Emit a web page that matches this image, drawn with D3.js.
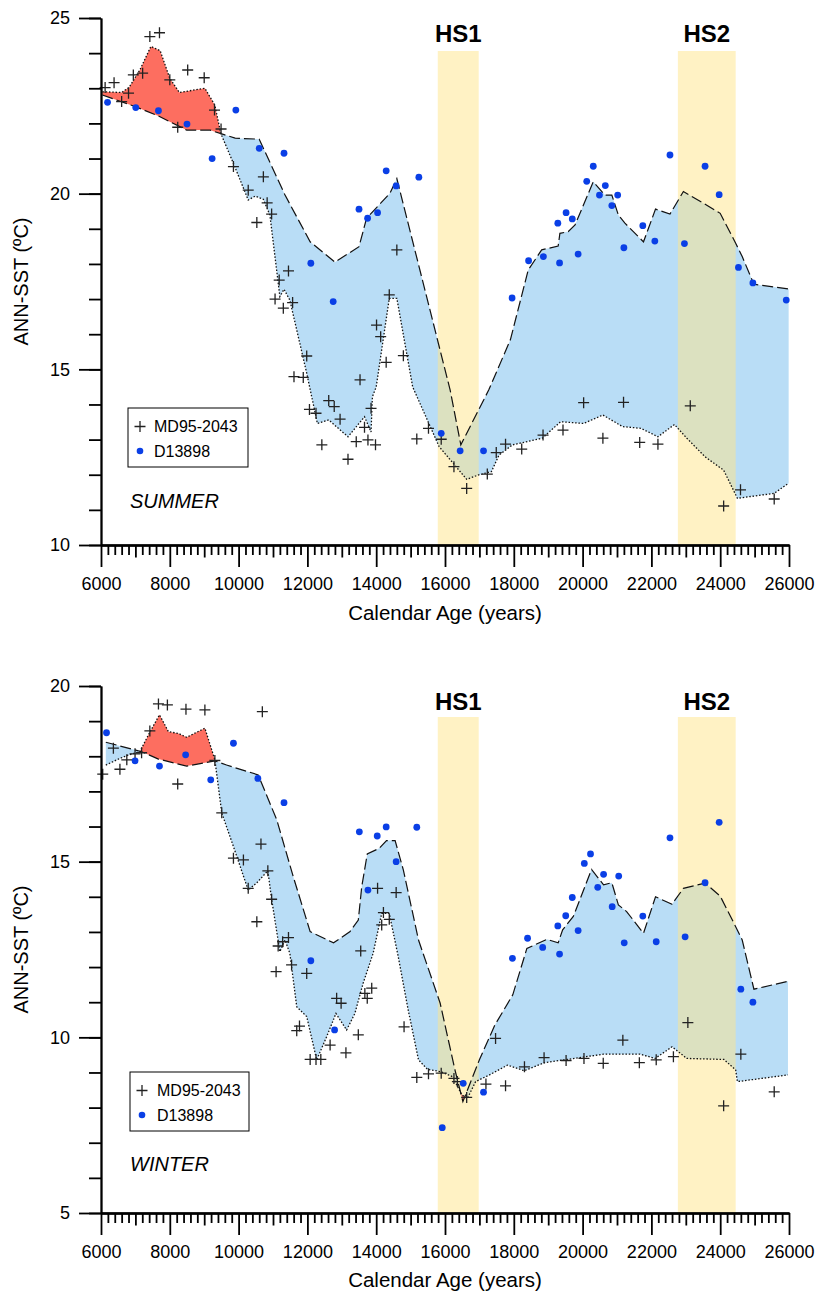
<html>
<head>
  <script src="https://d3js.org/d3.v7.min.js"></script>
</head>
<style>
  body { margin: 0; background: #fff; }
  text { font-family: "Liberation Sans", Arial, sans-serif; fill: #000; }
  .axis path, .axis line { stroke: #000; stroke-width: 1.8; }
  .axis text { font-size: 18px; }
</style>
<body>
<svg id="chart" width="815" height="1291"></svg>
<script>
// ---- data: [age (yr), SST (degC)] ----
const summerMd = [[6120,23.02],[6380,23.16],[6600,22.62],[6800,22.86],[6940,23.38],[7210,23.43],[7420,24.47],[7700,24.58],
  [8000,23.24],[8230,21.89],[8520,23.52],[9000,23.30],[9300,22.38],[9490,21.84],[9850,20.77],[10280,20.10],[10530,19.18],
  [10720,20.48],[10830,19.74],[10960,19.42],[11060,17.0],[11180,17.54],[11300,16.74],[11450,17.80],[11570,16.9],[11610,14.79],
  [11880,14.77],[11980,15.38],[12060,13.86],[12250,13.75],[12420,12.85],[12620,14.11],[12780,13.94],[12950,13.58],[13180,12.44],
  [13420,12.94],[13530,14.70],[13660,13.35],[13760,12.99],[13850,13.89],[13980,12.85],[14010,16.26],[14130,15.93],[14290,15.20],
  [14380,17.12],[14600,18.40],[14790,15.39],[15180,13.02],[15520,13.32],[15890,13.01],[16260,12.23],[16630,11.61],[17230,12.02],
  [17490,12.63],[17760,12.87],[18230,12.73],[18850,13.13],[19430,13.27],[20030,14.05],[20590,13.04],[21190,14.06],[21660,12.92],
  [22190,12.87],[23130,13.96],[24100,11.11],[24590,11.57],[25570,11.31]];

const summerD = [[6190,22.60],[7010,22.45],[7670,22.36],[8500,21.98],[9230,21.0],[9920,22.38],[10600,21.29],[11320,21.15],
  [12100,18.02],[12750,16.93],[13500,19.56],[13750,19.30],[14040,19.46],[14290,20.65],[14580,20.22],[15240,20.47],[15890,13.18],
  [16440,12.68],[17120,12.68],[17950,17.03],[18430,18.09],[18860,18.21],[19280,19.16],[19330,18.03],[19520,19.46],[19700,19.28],
  [19870,18.28],[20120,20.35],[20310,20.78],[20490,19.96],[20660,20.23],[20850,19.66],[21020,19.96],[21200,18.46],[21750,19.09],
  [22100,18.65],[22540,21.10],[22960,18.58],[23560,20.78],[23970,19.97],[24530,17.90],[24950,17.46],[25920,16.97]];

// smoothed envelopes (dashed = D13898, dotted = MD95-2043)
const summerDashed = [[6040,22.81],[6990,22.48],[7670,22.21],[8490,21.81],[9170,21.81],[9510,21.70],[9900,21.58],[10600,21.55],
  [11350,19.96],[12080,18.63],[12800,18.05],[13500,18.49],[13720,19.30],[14400,20.01],[14600,20.43],[16150,14.41],[16460,12.85],
  [17270,14.41],[17900,15.84],[18420,17.83],[18810,18.40],[19290,18.51],[19340,18.87],[19580,18.92],[19780,19.11],[20310,20.34],
  [20650,19.96],[20850,19.96],[21040,19.39],[21230,19.16],[21770,18.63],[22120,19.56],[22540,19.42],[22930,20.06],[23510,19.73],
  [24000,19.44],[24450,18.59],[24640,18.21],[24980,17.42],[25990,17.29]];

const summerDotted = [[6040,22.90],[6600,22.88],[6820,23.03],[7130,23.52],[7450,24.19],[7720,24.07],[8000,23.28],[8280,22.88],
  [9020,23.0],[9310,22.52],[9480,21.72],[9850,20.86],[10280,19.82],[10480,19.93],[10720,19.84],[10910,19.39],[11200,17.07],
  [11320,17.28],[11490,16.97],[11690,16.12],[11980,14.89],[12290,13.46],[12620,13.56],[13180,13.08],[13660,13.65],[13850,13.22],
  [13890,14.22],[14000,14.5],[14380,17.02],[14600,17.02],[15060,14.5],[15830,12.80],[16630,11.87],[16960,11.99],[17350,12.09],
  [17570,12.56],[17960,12.85],[18830,13.04],[19360,13.51],[20030,13.46],[20590,13.70],[21160,13.37],[21700,13.32],[22190,13.08],
  [22670,13.43],[23030,13.04],[23560,12.51],[24100,12.13],[24500,11.33],[25570,11.47],[25990,11.76]];

const winterMd = [[6050,17.49],[6360,18.23],[6550,17.63],[6750,17.90],[6990,18.07],[7180,18.10],[7420,18.72],[7670,19.49],
  [7930,19.46],[8230,17.21],[8470,19.34],[9020,19.32],[9310,17.88],[9510,16.39],[9850,15.10],[10140,15.05],[10280,14.24],
  [10530,13.29],[10650,15.50],[10690,19.27],[10850,14.74],[10960,13.93],[11090,11.87],[11150,12.60],[11280,12.72],[11450,12.84],
  [11540,12.06],[11690,10.19],[11770,10.32],[11980,11.82],[12080,9.37],[12250,9.37],[12390,9.37],[12660,9.78],[12850,11.11],
  [12980,10.97],[13120,9.56],[13480,10.07],[13550,12.46],[13670,11.25],[13740,11.11],[13870,11.40],[14040,14.24],[14160,13.20],
  [14210,13.55],[14380,13.36],[14580,14.12],[14810,10.30],[15180,8.86],[15520,8.96],[15890,8.98],[16260,8.83],[16360,8.74],
  [16630,8.29],[17190,8.67],[17470,9.97],[17760,8.62],[18310,9.16],[18880,9.42],[19520,9.34],[20040,9.40],[20600,9.26],
  [21170,9.92],[21650,9.28],[22140,9.36],[22640,9.45],[23060,10.42],[24100,8.05],[24600,9.52],[25570,8.45]];

const winterD = [[6160,18.67],[6990,17.87],[7700,17.72],[8460,18.04],[9190,17.33],[9850,18.37],[10560,17.37],[11320,16.68],
  [12100,12.18],[12790,10.21],[13510,15.85],[13760,14.19],[14030,15.73],[14290,15.99],[14580,15.00],[15180,15.98],[15920,7.43],
  [16530,8.69],[17120,8.44],[17960,12.25],[18400,12.82],[18840,12.56],[19280,13.17],[19330,12.37],[19510,13.46],[19700,13.98],
  [19870,13.04],[20050,14.95],[20230,15.22],[20440,14.27],[20610,14.64],[20860,13.72],[21050,14.59],[21210,12.69],[21750,13.45],
  [22140,12.72],[22540,15.68],[22980,12.86],[23560,14.40],[23970,16.12],[24600,11.37],[24950,11.00]];

const winterDashed = [[6140,18.40],[7180,18.13],[7670,17.92],[8490,17.72],[9310,17.87],[9650,17.75],[10570,17.47],[11110,16.19],
  [11590,14.57],[12080,13.01],[12760,12.69],[13240,13.01],[13480,13.34],[13580,14.29],[13740,15.22],[14090,15.38],[14300,15.60],
  [14550,15.60],[14790,14.76],[15230,12.77],[15860,10.97],[16290,9.07],[16520,8.17],[17000,9.36],[17450,10.35],[17970,11.21],
  [18380,12.53],[18960,12.79],[19290,12.69],[19420,13.06],[19730,13.44],[20260,14.78],[20610,14.34],[20850,14.40],[21040,13.77],
  [21280,13.58],[21770,12.96],[22120,14.0],[22600,13.79],[22930,14.24],[23560,14.39],[24000,14.02],[24450,13.15],[24640,12.77],
  [24980,11.37],[25990,11.60]];

const winterDotted = [[6140,17.75],[6550,17.94],[6780,18.03],[7130,18.13],[7400,18.65],[7700,19.18],[7960,18.70],[8250,18.65],
  [8490,18.54],[9020,18.80],[9310,17.90],[9510,16.39],[9850,15.43],[10280,14.19],[10530,14.40],[10850,14.74],[10960,13.93],
  [11200,12.44],[11350,12.77],[11490,12.39],[11690,10.87],[11980,10.59],[12270,9.36],[12560,10.02],[12830,10.68],[13140,10.21],
  [13380,10.68],[13620,11.54],[13910,12.39],[14160,13.53],[14380,13.53],[14640,12.30],[14930,10.78],[15230,9.36],[15490,9.09],
  [15890,9.02],[16220,8.88],[16490,8.36],[16650,8.26],[16890,8.74],[17290,8.93],[17820,9.21],[18300,9.05],[18900,9.28],
  [19540,9.37],[20600,9.52],[21670,9.52],[22110,9.40],[22600,9.73],[23030,9.40],[24110,9.37],[24450,9.07],[24500,8.74],
  [25970,8.93]];

// Heinrich stadials
const hsNames = ["HS1", "HS2"];
const hsStart = [15790, 22770];
const hsEnd = [16980, 24450];

const xTicksMajor = d3.range(6000, 26001, 2000);

// ---- drawing ----
const svg = d3.select("svg#chart");
const xScale = d3.scaleLinear().domain([6000, 26000]).range([101, 789]);

const panels = [
  { season: "SUMMER", md: summerMd, d: summerD, upper: summerDashed, lower: summerDotted,
    yDomain: [10, 25], yRange: [545, 18], bandTop: 51, hsY: 42,
    legend: { x: 128, y: 408, w: 120, h: 59, ix: 140, tx: 154 }, seasonY: 508, xLabelY: 620 },
  { season: "WINTER", md: winterMd, d: winterD, upper: winterDashed, lower: winterDotted,
    yDomain: [5, 20], yRange: [1213, 686], bandTop: 717, hsY: 710,
    legend: { x: 130, y: 1072, w: 119, h: 59, ix: 142, tx: 157 }, seasonY: 1171, xLabelY: 1287 }
];

function interp(arr, x) {
  if (x <= arr[0][0]) return arr[0][1];
  for (let i = 1; i < arr.length; i++) {
    if (x <= arr[i][0]) {
      const t = (x - arr[i - 1][0]) / (arr[i][0] - arr[i - 1][0]);
      return arr[i - 1][1] + t * (arr[i][1] - arr[i - 1][1]);
    }
  }
  return arr[arr.length - 1][1];
}

// merge both envelopes on a common grid, add crossing points
function mergeEnvelopes(upper, lower) {
  const x0 = Math.max(upper[0][0], lower[0][0]);
  const x1 = Math.min(upper[upper.length - 1][0], lower[lower.length - 1][0]);
  const xs = Array.from(new Set(upper.map(d => d[0]).concat(lower.map(d => d[0]), [x0, x1])))
    .filter(x => x >= x0 && x <= x1).sort((a, b) => a - b);
  const pts = xs.map(x => ({ x, u: interp(upper, x), l: interp(lower, x) }));
  const out = [pts[0]];
  for (let i = 1; i < pts.length; i++) {
    const a = pts[i - 1], b = pts[i];
    const da = a.u - a.l, db = b.u - b.l;
    if (da * db < 0) {
      const t = da / (da - db);
      const v = a.u + t * (b.u - a.u);
      out.push({ x: a.x + t * (b.x - a.x), u: v, l: v });
    }
    out.push(b);
  }
  return out;
}

const crossPath = "M-5.5,0H5.5M0,-5.5V5.5";

panels.forEach(p => {
  const yScale = d3.scaleLinear().domain(p.yDomain).range(p.yRange);
  const g = svg.append("g");
  const env = mergeEnvelopes(p.upper, p.lower);

  // blue fill where D13898 envelope is above
  g.append("path")
    .datum(env)
    .attr("fill", "#b9ddf6")
    .attr("d", d3.area().x(d => xScale(d.x)).y0(d => yScale(d.l)).y1(d => yScale(Math.max(d.u, d.l))));

  // HS bands
  hsNames.forEach((name, i) => {
    g.append("rect")
      .attr("x", xScale(hsStart[i]))
      .attr("width", xScale(hsEnd[i]) - xScale(hsStart[i]))
      .attr("y", p.bandTop)
      .attr("height", p.yRange[0] - p.bandTop)
      .attr("fill", "#ffe589")
      .attr("fill-opacity", 0.5);
    g.append("text")
      .attr("x", (xScale(hsStart[i]) + xScale(hsEnd[i])) / 2)
      .attr("y", p.hsY)
      .attr("text-anchor", "middle")
      .style("font-size", "24px")
      .style("font-weight", "bold")
      .text(name);
  });

  // red fill where MD95-2043 envelope is above
  g.append("path")
    .datum(env)
    .attr("fill", "#fd6e60")
    .attr("d", d3.area().x(d => xScale(d.x)).y0(d => yScale(d.u)).y1(d => yScale(Math.max(d.u, d.l))));

  const line = d3.line().x(d => xScale(d[0])).y(d => yScale(d[1]));
  g.append("path").datum(p.upper)
    .attr("d", line).attr("fill", "none").attr("stroke", "#111")
    .attr("stroke-width", 1.2).attr("stroke-dasharray", "11,4");
  g.append("path").datum(p.lower)
    .attr("d", line).attr("fill", "none").attr("stroke", "#111")
    .attr("stroke-width", 1.3).attr("stroke-dasharray", "1.5,1.8");

  // markers
  g.selectAll(".md").data(p.md).join("path")
    .attr("transform", d => `translate(${xScale(d[0])},${yScale(d[1])})`)
    .attr("d", crossPath).attr("stroke", "#222").attr("stroke-width", 1.3);
  g.selectAll(".dd").data(p.d).join("circle")
    .attr("cx", d => xScale(d[0])).attr("cy", d => yScale(d[1]))
    .attr("r", 3.4).attr("fill", "#0a3fe6");

  // axes
  const yBase = p.yRange[0];
  g.append("g").attr("class", "axis").attr("transform", `translate(0,${yBase})`)
    .call(d3.axisBottom(xScale).tickValues(d3.range(6000, 26001, 200).filter(v => v % 1000 !== 0))
      .tickSize(10).tickSizeOuter(0).tickFormat(""));
  g.append("g").attr("class", "axis").attr("transform", `translate(0,${yBase})`)
    .call(d3.axisBottom(xScale).tickValues(d3.range(7000, 26000, 2000))
      .tickSize(12.5).tickSizeOuter(0).tickFormat(""));
  g.append("g").attr("class", "axis").attr("transform", `translate(0,${yBase})`)
    .call(d3.axisBottom(xScale).tickValues(xTicksMajor)
      .tickSize(22).tickPadding(10).tickSizeOuter(0).tickFormat(d3.format("d")));

  g.append("g").attr("class", "axis").attr("transform", `translate(${xScale(6000)},0)`)
    .call(d3.axisLeft(yScale).ticks(15).tickSize(12).tickSizeOuter(0).tickFormat(""));
  g.append("g").attr("class", "axis").attr("transform", `translate(${xScale(6000)},0)`)
    .call(d3.axisLeft(yScale).tickValues(d3.range(p.yDomain[0], p.yDomain[1] + 1, 5))
      .tickSize(22).tickPadding(9).tickSizeOuter(0));
  g.selectAll(".axis .tick text").style("font-size", "18px");

  // axis titles
  g.append("text")
    .attr("x", (xScale.range()[0] + xScale.range()[1]) / 2)
    .attr("y", p.xLabelY)
    .attr("text-anchor", "middle")
    .style("font-size", "20.5px")
    .text("Calendar Age (years)");
  g.append("text")
    .attr("transform", `translate(28,${(p.yRange[0] + p.yRange[1]) / 2}) rotate(-90)`)
    .attr("text-anchor", "middle")
    .style("font-size", "20px")
    .text("ANN-SST (ºC)");

  // legend
  const L = p.legend;
  g.append("rect").attr("x", L.x).attr("y", L.y).attr("width", L.w).attr("height", L.h)
    .attr("fill", "#fff").attr("stroke", "#000").attr("stroke-width", 1);
  g.append("path").attr("transform", `translate(${L.ix},${L.y + 18.5})`)
    .attr("d", crossPath).attr("stroke", "#222").attr("stroke-width", 1.3);
  g.append("text").attr("x", L.tx).attr("y", L.y + 18.5).attr("dy", "0.36em")
    .style("font-size", "16px").text("MD95-2043");
  g.append("circle").attr("cx", L.ix).attr("cy", L.y + 43).attr("r", 3.3).attr("fill", "#0a3fe6");
  g.append("text").attr("x", L.tx).attr("y", L.y + 43).attr("dy", "0.36em")
    .style("font-size", "16px").text("D13898");

  g.append("text")
    .attr("x", 130).attr("y", p.seasonY)
    .style("font-size", "20px").style("font-style", "italic")
    .text(p.season);
});
</script>
</body>
</html>
